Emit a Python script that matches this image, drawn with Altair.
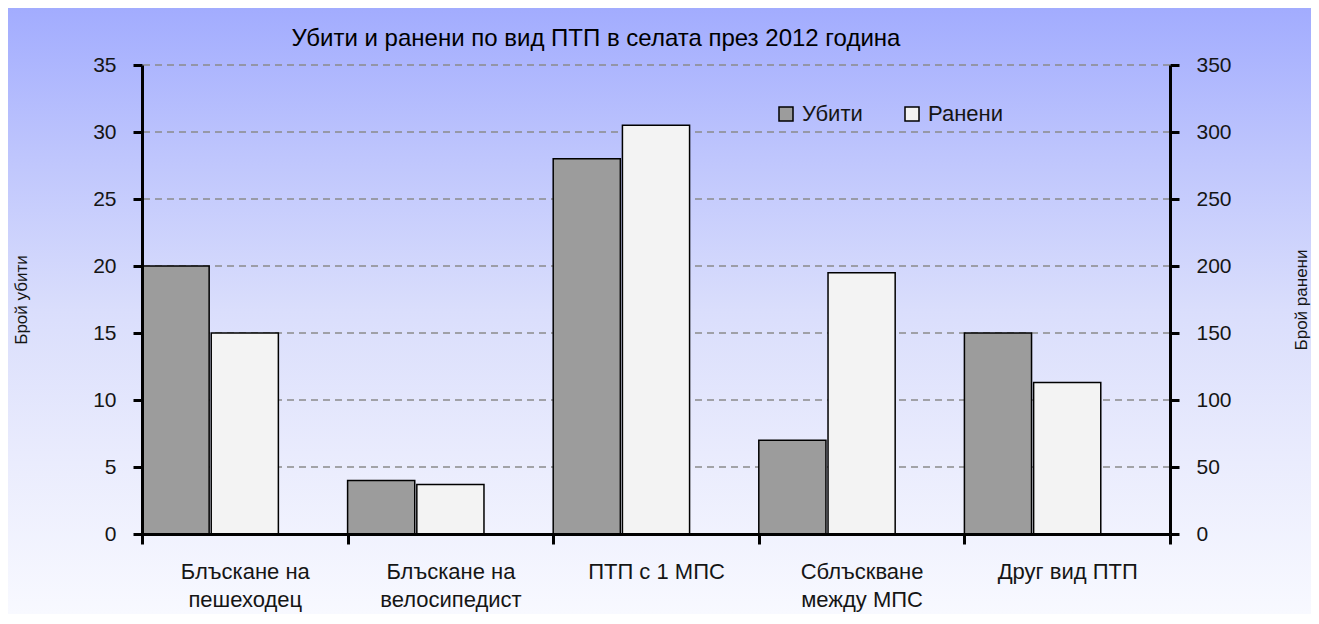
import altair as alt
import pandas as pd

# ---- data ----
categories = ["Блъскане на\nпешеходец", "Блъскане на\nвелосипедист", "ПТП с 1 МПС",
              "Сблъскване\nмежду МПС", "Друг вид ПТП"]
killed = [20, 4, 28, 7, 15]
injured = [150, 37, 305, 195, 113]
series = ["Убити", "Ранени"]
left_ticks = [0, 5, 10, 15, 20, 25, 30, 35]
right_ticks = [0, 50, 100, 150, 200, 250, 300, 350]
grid_values = [5, 10, 15, 20, 25, 30, 35]

title_text = "Убити и ранени по вид ПТП в селата през 2012 година"
left_title = "Брой убити"
right_title = "Брой ранени"

W, H = 1028, 469
PL, PT, PR, PB = 134, 57, 141, 80

df_k = pd.DataFrame({"cat": categories, "v": killed, "series": series[0]})
df_i = pd.DataFrame({"cat": categories, "v": injured, "series": series[1]})
df_g = pd.DataFrame({"v": grid_values})

FONT = "Liberation Sans"
TXT = "#151515"

x_enc = alt.X(
    "cat:N", sort=categories, title=None,
    scale=alt.Scale(paddingInner=0, paddingOuter=0),
    axis=alt.Axis(labelAngle=0, labelExpr="split(datum.label, '\\n')",
                  labelFont=FONT, labelFontSize=22, labelColor=TXT,
                  labelLineHeight=28, labelPadding=17,
                  tickBand="extent", tickSize=10, tickWidth=3, tickColor="black",
                  domainColor="black", domainWidth=3, grid=False, zindex=1),
)
xoff = alt.XOffset("series:N", scale=alt.Scale(domain=["Убити", "Ранени", "—"],
                                               paddingInner=0.03, paddingOuter=0))
fill_enc = alt.Fill(
    "series:N",
    scale=alt.Scale(domain=series, range=["#9c9c9c", "#f3f3f3"]),
    legend=alt.Legend(orient="none", legendX=633, legendY=38, direction="horizontal",
                      title=None, symbolType="square", symbolSize=196,
                      symbolStrokeColor="black", symbolStrokeWidth=1.5,
                      labelFont=FONT, labelFontSize=22, labelColor=TXT,
                      labelOffset=5, columnPadding=38),
)

bg = alt.Chart(pd.DataFrame({"k": [0]})).mark_rect(
    clip=False,
    fill=alt.Gradient(gradient="linear", x1=0, x2=0, y1=0, y2=1,
                      stops=[alt.GradientStop(offset=0, color="#a2acfe"),
                             alt.GradientStop(offset=0.25, color="#bfc6fd"),
                             alt.GradientStop(offset=0.5, color="#dadefc"),
                             alt.GradientStop(offset=0.75, color="#eaecfd"),
                             alt.GradientStop(offset=1, color="#f8f9ff")]),
).encode(x=alt.value(-PL), x2=alt.value(W + PR), y=alt.value(-PT), y2=alt.value(H + PB))

grid = alt.Chart(df_g).mark_rule(color="#8a8a8a", strokeWidth=1.5, strokeDash=[7, 5]).encode(
    y=alt.Y("v:Q", scale=alt.Scale(domain=[0, 35]), axis=None)
)

axis_common = dict(labelFont=FONT, labelFontSize=21, labelColor=TXT,
                   tickSize=9, tickWidth=3, tickColor="black",
                   domainColor="black", domainWidth=3, grid=False, zindex=1,
                   labelPadding=17, titleFont=FONT, titleFontSize=17,
                   titleFontWeight="normal", titleColor=TXT, titleAngle=-90,
                   titleAlign="center", titleBaseline="middle")

bars_k = alt.Chart(df_k).mark_bar(stroke="black", strokeWidth=1.5).encode(
    x=x_enc, xOffset=xoff,
    y=alt.Y("v:Q", scale=alt.Scale(domain=[0, 35]),
            axis=alt.Axis(orient="left", values=left_ticks, title=left_title,
                          titleX=-121, titleY=H / 2, **axis_common)),
    fill=fill_enc,
)

bars_i = alt.Chart(df_i).mark_bar(stroke="black", strokeWidth=1.5).encode(
    x=x_enc, xOffset=xoff,
    y=alt.Y("v:Q", scale=alt.Scale(domain=[0, 350]),
            axis=alt.Axis(orient="right", values=right_ticks, title=right_title,
                          titleX=131, titleY=H / 2, **axis_common)),
    fill=fill_enc,
)

chart = alt.layer(bg, grid, bars_k, bars_i).resolve_scale(y="independent").properties(
    width=W, height=H,
    autosize=alt.AutoSizeParams(type="none"),
    padding={"left": PL, "top": PT, "right": PR, "bottom": PB},
    title=alt.TitleParams(text=title_text, font=FONT, fontSize=24,
                          fontWeight="normal", color="black", anchor="middle",
                          baseline="alphabetic", dx=-60, dy=62, offset=0),
).configure_view(stroke=None)

chart.save("out.html", embed_options={"renderer": "svg", "actions": False})
